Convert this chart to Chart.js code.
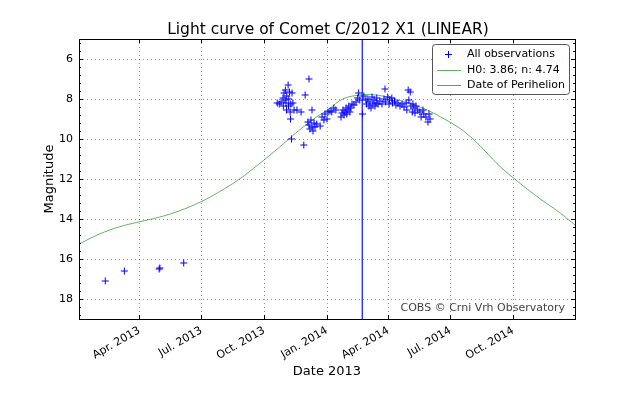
<!DOCTYPE html>
<html>
<head>
<meta charset="utf-8">
<script src="https://cdn.jsdelivr.net/npm/chart.js@4.4.0/dist/chart.umd.min.js"></script>
<style>
  body { margin: 0; background: #fff; }
  #c { display: block; }
</style>
</head>
<body>
<canvas id="c" width="640" height="400"></canvas>
<script>
// days counted from 2013-01-01
const obsDay = [40, 68, 119, 120, 155,
  292, 295, 297.6, 300.5, 301, 302, 303.5, 304, 305, 305.7, 306, 308, 308.6, 309, 310, 311, 311.5, 312, 313, 313.7, 315, 316.7, 321, 327, 331, 333, 338.6,
  337, 338.6, 340, 341.5, 343, 343, 344.5, 346, 347.4, 350, 355, 357.7, 360.6, 362, 365, 366.5, 369.4, 372, 375, 378,
  385.5, 387, 388.5, 390, 391.4, 393, 394, 395.8, 397, 398.6, 400, 401.6, 404.5, 407.5, 410, 411.4, 413, 417, 419,
  422, 423, 425, 426.5, 428, 429.5, 431, 432.4, 434, 435.4, 437, 438, 439.7, 442.6, 445.6, 448.5, 450, 451, 454, 456, 457, 460, 461, 464, 466, 469,
  472, 475, 478, 481, 482, 484, 485, 487, 488, 490, 491, 492.5, 494, 495.4, 498, 501, 503, 505.6, 507, 510, 513, 514.5, 516];
const obsMag = [17.1, 16.6, 16.5, 16.45, 16.2,
  8.2, 8.25, 8.15, 7.95, 8.35, 7.7, 8.05, 7.55, 8.2, 8.55, 7.85, 7.3, 8.35, 8.0, 7.65, 8.65, 9.0, 8.25, 10.0, 7.7, 8.2, 8.55, 8.55, 8.65, 10.3, 7.8, 7.0,
  9.15, 9.3, 9.5, 9.05, 8.55, 9.4, 9.6, 9.2, 9.4, 9.25, 9.35, 8.9, 9.05, 8.75, 9.0, 8.65, 8.6, 8.65, 8.45, 8.55,
  8.9, 8.7, 8.55, 8.8, 8.65, 8.45, 8.75, 8.55, 8.35, 8.65, 8.45, 8.25, 8.3, 8.15, 7.95, 7.7, 8.05, 8.75, 7.85,
  8.05, 8.25, 8.0, 8.35, 8.15, 8.45, 7.9, 8.25, 8.05, 8.35, 8.2, 7.95, 8.25, 8.1, 8.25, 8.0, 7.5, 8.15, 7.9, 8.25, 8.05, 7.95, 8.2, 8.1, 8.3, 8.2,
  8.35, 8.25, 8.4, 8.2, 8.55, 7.55, 8.05, 7.65, 8.35, 8.65, 8.25, 8.45, 8.7, 8.35, 8.55, 8.65, 8.9, 8.55, 8.75, 8.9, 9.15, 8.75, 9.0];

const modelDay = [1.5, 31, 60, 90, 119, 148, 180, 207, 236, 265, 295, 324, 353, 368, 388, 413, 428, 443, 462, 472, 491, 516, 537, 560, 575, 589, 618, 648, 677, 706, 728.5];
const modelMag = [15.25, 14.76, 14.4, 14.14, 13.91, 13.6, 13.14, 12.64, 12.02, 11.26, 10.42, 9.57, 8.82, 8.5, 8.0, 7.8, 7.78, 7.83, 7.97, 8.08, 8.27, 8.62, 9.0, 9.47, 9.88, 10.33, 11.35, 12.22, 12.98, 13.68, 14.3];

const perihelionDay = 416.7;

const tickDay = [90, 181, 273, 365, 455, 546, 638];
const tickLabels = ['Apr. 2013', 'Jul. 2013', 'Oct. 2013', 'Jan. 2014', 'Apr. 2014', 'Jul. 2014', 'Oct. 2014'];
const magTicks = [6, 8, 10, 12, 14, 16, 18];

const font = '"DejaVu Sans", sans-serif';
const blue = '#0000ff';
const periColor = 'rgba(0,0,255,0.55)';
const green = 'rgba(0,128,0,0.6)';

const frame = {
  id: 'frame',
  afterDraw(chart) {
    const c = chart.ctx, a = chart.chartArea;
    const xs = chart.scales.x, ys = chart.scales.y;
    c.save();
    // tick marks inside
    c.strokeStyle = '#000';
    c.lineWidth = 1;
    c.beginPath();
    tickDay.forEach(d => {
      const x = Math.round(xs.getPixelForValue(d)) + 0.5;
      c.moveTo(x, a.bottom); c.lineTo(x, a.bottom - 4);
      c.moveTo(x, a.top); c.lineTo(x, a.top + 4);
    });
    for (let m = 5.2; m < 19; m += 0.4) {
      const y = Math.round(ys.getPixelForValue(m)) + 0.5;
      const major = Math.abs(m - Math.round(m)) < 0.01 && Math.round(m) % 2 === 0;
      const len = major ? 4 : 2;
      c.moveTo(a.left, y); c.lineTo(a.left + len, y);
      c.moveTo(a.right, y); c.lineTo(a.right - len, y);
    }
    c.stroke();
    // box
    c.strokeRect(Math.round(a.left) + 0.5, Math.round(a.top) + 0.5, Math.round(a.right - a.left), Math.round(a.bottom - a.top));

    // titles
    c.fillStyle = '#000';
    c.textAlign = 'center';
    c.textBaseline = 'alphabetic';
    c.font = '15.5px ' + font;
    c.fillText('Light curve of Comet C/2012 X1 (LINEAR)', (a.left + a.right) / 2 + 1, 34);
    c.font = '13px ' + font;
    c.fillText('Date 2013', (a.left + a.right) / 2, 375);
    c.save();
    c.translate(53, (a.top + a.bottom) / 2);
    c.rotate(-Math.PI / 2);
    c.fillText('Magnitude', 0, 0);
    c.restore();

    // credit
    c.font = '11px ' + font;
    c.fillStyle = '#444';
    c.textAlign = 'right';
    c.fillText('COBS \u00a9 Crni Vrh Observatory', a.right - 10, 311);

    // legend
    const lx = 432, ly = 44, lw = 137, lh = 50;
    c.fillStyle = 'rgba(255,255,255,0.9)';
    c.strokeStyle = '#555';
    c.beginPath();
    c.roundRect(lx + 0.5, ly + 0.5, lw, lh, 3);
    c.fill();
    c.stroke();
    c.font = '11px ' + font;
    c.fillStyle = '#000';
    c.textAlign = 'left';
    c.textBaseline = 'middle';
    const rows = [ly + 10, ly + 26, ly + 41];
    c.strokeStyle = blue;
    c.beginPath();
    c.moveTo(448.5 - 3.5, rows[0] + 0.5); c.lineTo(448.5 + 3.5, rows[0] + 0.5);
    c.moveTo(448.5, rows[0] - 3); c.lineTo(448.5, rows[0] + 4);
    c.stroke();
    c.strokeStyle = green;
    c.beginPath(); c.moveTo(437, rows[1] + 0.5); c.lineTo(461, rows[1] + 0.5); c.stroke();
    c.strokeStyle = periColor;
    c.beginPath(); c.moveTo(437, rows[2] + 0.5); c.lineTo(461, rows[2] + 0.5); c.stroke();
    c.fillText('All observations', 467, rows[0]);
    c.fillText('H0: 3.86; n: 4.74', 467, rows[1]);
    c.fillText('Date of Perihelion', 467, rows[2]);
    c.restore();
  }
};

new Chart(document.getElementById('c'), {
  type: 'scatter',
  data: {
    datasets: [
      {
        label: 'All observations',
        data: obsDay.map((d, i) => ({ x: d, y: obsMag[i] })),
        pointStyle: 'cross',
        pointRadius: 3.5,
        borderColor: blue,
        backgroundColor: blue,
        borderWidth: 1,
        order: 1
      },
      {
        label: 'H0: 3.86; n: 4.74',
        data: modelDay.map((d, i) => ({ x: d, y: modelMag[i] })),
        showLine: true,
        pointRadius: 0,
        borderColor: green,
        borderWidth: 1,
        tension: 0.4,
        order: 2
      },
      {
        label: 'Date of Perihelion',
        data: [{ x: perihelionDay, y: 5 }, { x: perihelionDay, y: 19 }],
        showLine: true,
        pointRadius: 0,
        borderColor: periColor,
        borderWidth: 1,
        order: 3
      }
    ]
  },
  options: {
    responsive: false,
    animation: false,
    layout: { padding: { left: 0, top: 39, right: 65, bottom: 0 } },
    plugins: {
      legend: { display: false },
      tooltip: { enabled: false },
      title: { display: false }
    },
    scales: {
      x: {
        type: 'linear',
        min: 1.5,
        max: 728.5,
        afterFit(s) { s.height = 81; },
        afterBuildTicks(s) { s.ticks = tickDay.map(v => ({ value: v })); },
        grid: { color: 'rgba(0,0,0,0.4)', drawTicks: false, lineWidth: 1 },
        border: { display: false, dash: [1, 3] },
        ticks: {
          autoSkip: false,
          minRotation: 30,
          maxRotation: 30,
          padding: 5,
          color: '#000',
          font: { family: font, size: 11 },
          callback: (v, i) => tickLabels[i]
        }
      },
      y: {
        type: 'linear',
        reverse: true,
        min: 5,
        max: 19,
        afterFit(s) { s.width = 79; },
        afterBuildTicks(s) { s.ticks = magTicks.map(v => ({ value: v })); },
        grid: { color: 'rgba(0,0,0,0.4)', drawTicks: false, lineWidth: 1 },
        border: { display: false, dash: [1, 3] },
        ticks: {
          padding: 6,
          color: '#000',
          font: { family: font, size: 11 }
        }
      }
    }
  },
  plugins: [frame]
});
</script>
</body>
</html>
